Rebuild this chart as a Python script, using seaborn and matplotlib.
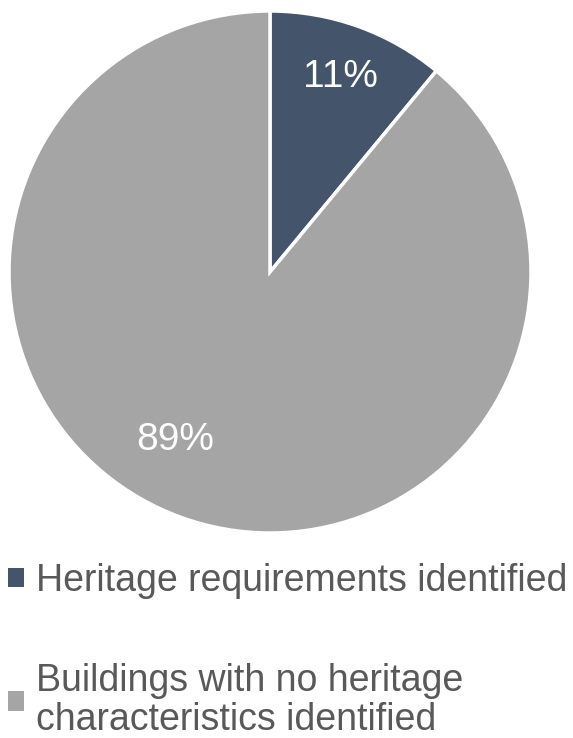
import matplotlib
matplotlib.use("Agg")
import matplotlib.pyplot as plt
import seaborn as sns
from matplotlib.patches import Patch

categories = ["Heritage requirements identified",
              "Buildings with no heritage\ncharacteristics identified"]
values = [11, 89]
pct_labels = ["11%", "89%"]
colors = ["#44546A", "#A5A5A5"]

sns.set_theme(style="white")
plt.rcParams['font.family'] = ['Liberation Sans', 'DejaVu Sans']

fig = plt.figure(figsize=(5.73, 7.38), dpi=100)
ax = fig.add_axes([9/573, (738-533)/738, 522/573, 522/738])
wedges, _ = ax.pie(values, colors=colors, startangle=90, counterclock=False,
                   wedgeprops=dict(edgecolor="white", linewidth=2.5),
                   radius=1.0)
ax.set_xlim(-1, 1)
ax.set_ylim(-1, 1)
ax.set_aspect('equal')
ax.axis('off')

# percentage labels
pos = [(70/261, 195/261), (-95/261, -168/261)]
for (x, y), lab in zip(pos, pct_labels):
    ax.text(x, y, lab, ha='center', va='center', color='white', fontsize=28)

fs = 27
handles = [Patch(facecolor=c, edgecolor='none') for c in colors]
leg = fig.legend(handles, categories, loc='upper left',
                 bbox_to_anchor=(-7/573, 1 - 548/738), frameon=False,
                 fontsize=fs, labelcolor='#595959',
                 handlelength=0.42, handleheight=0.42, handletextpad=0.33,
                 labelspacing=1.7, borderaxespad=0)
for t in leg.get_texts():
    t.set_linespacing(1.12)

fig.savefig("out.png", dpi=100)
